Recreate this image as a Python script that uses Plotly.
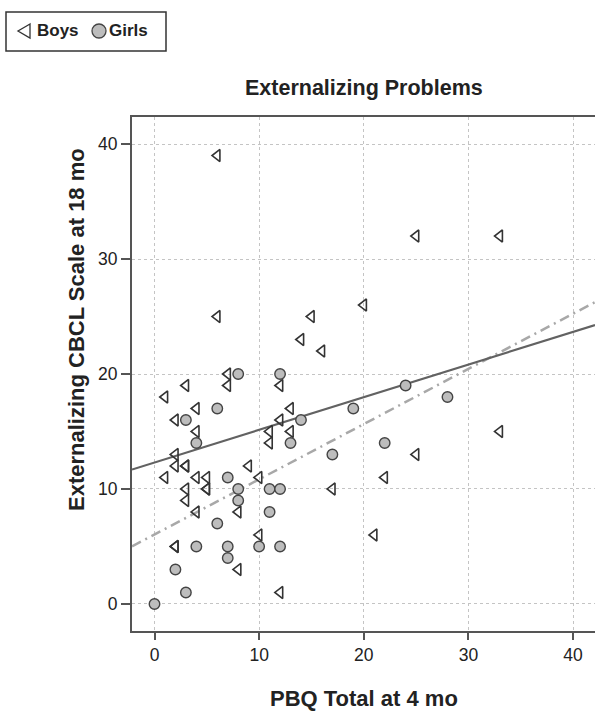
import plotly.graph_objects as go

# ---- data ----
boys_x = [6, 6, 25, 33, 20, 15, 14, 16, 33, 25, 22, 17, 21,
          7, 3, 7, 12, 1, 4, 13, 2, 12, 4, 11, 13, 11, 2, 2, 3, 3, 9,
          1, 4, 5, 10, 3, 5, 5, 3, 4, 8, 10, 2, 2, 8, 12]
boys_y = [39, 25, 32, 32, 26, 25, 23, 22, 15, 13, 11, 10, 6,
          20, 19, 19, 19, 18, 17, 17, 16, 16, 15, 15, 15, 14, 13, 12, 12, 12, 12,
          11, 11, 11, 11, 10, 10, 10, 9, 8, 8, 6, 5, 5, 3, 1]

girls_x = [0, 2, 3, 4, 7, 10, 12, 7, 6, 8, 8, 11, 12, 11, 7,
           4, 13, 3, 14, 6, 8, 12, 19, 24, 28, 22, 17]
girls_y = [0, 3, 1, 5, 5, 5, 5, 4, 7, 9, 10, 10, 10, 8, 11,
           14, 14, 16, 16, 17, 20, 20, 17, 19, 18, 14, 13]

# fitted lines (end points)
fit_x = [-2.15, 42.1]
solid_fit_y = [11.69, 24.26]
dashed_fit_y = [5.01, 26.25]

x_ticks = [0, 10, 20, 30, 40]
y_ticks = [0, 10, 20, 30, 40]

FONT = "Liberation Sans, Arial, sans-serif"

fig = go.Figure()
fig.add_trace(go.Scatter(x=fit_x, y=dashed_fit_y, mode="lines",
                         line=dict(color="#a8a8a8", width=2.5, dash="10px,5px,2px,5px"),
                         showlegend=False, hoverinfo="skip"))
fig.add_trace(go.Scatter(x=fit_x, y=solid_fit_y, mode="lines",
                         line=dict(color="#626262", width=2.2),
                         showlegend=False, hoverinfo="skip"))
fig.add_trace(go.Scatter(x=boys_x, y=boys_y, mode="markers", name="Boys",
                         marker=dict(symbol="triangle-left-open", size=10.5,
                                     color="#333333", line=dict(width=1.6, color="#333333")),
                         showlegend=False))
fig.add_trace(go.Scatter(x=girls_x, y=girls_y, mode="markers", name="Girls",
                         marker=dict(symbol="circle", size=10.5, color="#bdbdbd",
                                     line=dict(width=1.4, color="#444444")),
                         showlegend=False))

W, H = 595, 713
L, R, T, B = 132, 0, 117, 82
pw, ph = W - L - R, H - T - B

def px(xp):
    return (xp - L) / pw

def py(yp):
    return (H - B - yp) / ph

LEG_CY = 31
shapes = [
    dict(type="rect", xref="paper", yref="paper", x0=px(6), x1=px(166), y0=py(51), y1=py(12),
         line=dict(color="#333333", width=1.5), fillcolor="white"),
    dict(type="path", xref="paper", yref="paper", xsizemode="pixel", ysizemode="pixel",
         xanchor=px(24), yanchor=py(LEG_CY), path="M 6,7 L -6,0 L 6,-7 Z",
         line=dict(color="#333333", width=1.3)),
    dict(type="circle", xref="paper", yref="paper", xsizemode="pixel", ysizemode="pixel",
         xanchor=px(99), yanchor=py(LEG_CY), x0=-7, x1=7, y0=-7, y1=7,
         line=dict(color="#444444", width=1.3), fillcolor="#bdbdbd"),
]

annotations = [
    dict(text="<b>Boys</b>", xref="paper", yref="paper", x=px(35), y=py(LEG_CY),
         xanchor="left", yanchor="middle", showarrow=False,
         font=dict(family=FONT, size=17, color="#222222")),
    dict(text="<b>Girls</b>", xref="paper", yref="paper", x=px(107), y=py(LEG_CY),
         xanchor="left", yanchor="middle", showarrow=False,
         font=dict(family=FONT, size=17, color="#222222")),
    dict(text="<b>Externalizing Problems</b>", xref="paper", yref="paper", x=px(364), y=py(88),
         xanchor="center", yanchor="middle", showarrow=False,
         font=dict(family=FONT, size=21.5, color="#222222")),
    dict(text="<b>PBQ Total at 4 mo</b>", xref="paper", yref="paper", x=px(364), y=py(698),
         xanchor="center", yanchor="middle", showarrow=False,
         font=dict(family=FONT, size=22, color="#222222")),
    dict(text="<b>Externalizing CBCL Scale at 18 mo</b>", xref="paper", yref="paper", x=px(76), y=py(330),
         xanchor="center", yanchor="middle", showarrow=False, textangle=-90,
         font=dict(family=FONT, size=22, color="#222222")),
]

fig.update_layout(
    width=W, height=H,
    margin=dict(l=L, r=R, t=T, b=B),
    paper_bgcolor="white", plot_bgcolor="white",
    showlegend=False,
    shapes=shapes,
    annotations=annotations,
    font=dict(family=FONT, size=16, color="#222222"),
)
fig.update_xaxes(range=[-2.15, 42.1], tickvals=x_ticks, ticks="outside", ticklen=7,
                 tickwidth=2, tickcolor="#555555",
                 showline=True, linecolor="#555555", linewidth=2, mirror=True,
                 showgrid=True, gridcolor="#c4c4c4", gridwidth=1, griddash="3px,3px",
                 zeroline=False, tickfont=dict(family=FONT, size=17.5, color="#222222"))
fig.update_yaxes(range=[-2.35, 42.35], tickvals=y_ticks, ticks="outside", ticklen=9,
                 tickwidth=2, tickcolor="#555555",
                 showline=True, linecolor="#555555", linewidth=2,
                 showgrid=True, gridcolor="#c4c4c4", gridwidth=1, griddash="3px,3px",
                 zeroline=False, tickfont=dict(family=FONT, size=17.5, color="#222222"))

fig.write_html("out.html")
